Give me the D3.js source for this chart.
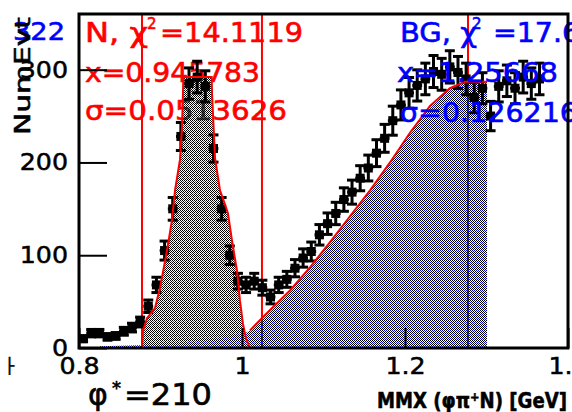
<!DOCTYPE html>
<html>
<head>
<meta charset="utf-8">
<script src="https://cdn.jsdelivr.net/npm/d3@7"></script>
<style>
html, body { margin: 0; padding: 0; background: #fff; overflow: hidden; }
svg { display: block; }
text { font-family: "DejaVu Sans", "Liberation Sans", sans-serif; }
</style>
</head>
<body>
<div id="chart"></div>
<script>
// measured events (bin centres, counts)
const binCenters = [0.805, 0.815, 0.825, 0.835, 0.845, 0.855, 0.865, 0.875, 0.885, 0.895,
    0.905, 0.915, 0.925, 0.935, 0.945, 0.955, 0.965, 0.975, 0.985, 0.995,
    1.005, 1.015, 1.025, 1.035, 1.045, 1.055, 1.065, 1.075, 1.085, 1.095,
    1.105, 1.115, 1.125, 1.135, 1.145, 1.155, 1.165, 1.175, 1.185, 1.195,
    1.205, 1.215, 1.225, 1.235, 1.245, 1.255, 1.265, 1.275, 1.285, 1.295,
    1.305, 1.315, 1.325, 1.335, 1.345, 1.355, 1.365];
const counts = [10, 16, 16, 12, 13, 18, 22, 28, 45, 68,
    105, 150, 228, 285, 292, 282, 215, 150, 100, 72,
    68, 72, 65, 55, 68, 74, 86, 97, 104, 122,
    134, 145, 160, 168, 183, 194, 210, 226, 245, 262,
    275, 283, 290, 298, 295, 303, 297, 290, 270, 280,
    250, 282, 288, 280, 292, 285, 290];

// N peak (fit) shape
const nX = [0.8773, 0.8785, 0.8834, 0.8933, 0.8994, 0.9080, 0.9141, 0.9178, 0.9239, 0.9264,
    0.9276, 0.9280, 0.9628, 0.9632, 0.9669, 0.9730, 0.9790, 0.9828, 0.9877, 0.9939,
    0.9975, 1.0012, 1.0050, 1.0098];
const nY = [0, 18, 32, 43, 65, 105, 138, 170, 203, 238,
    275, 292, 292, 275, 205, 170, 155, 145, 116, 83,
    51, 26, 10, 0];

// background (fit) shape
const bgX = [0.822, 0.826, 0.875, 0.924, 0.960, 0.985, 1.004, 1.0098, 1.0344, 1.0589,
    1.0834, 1.1080, 1.1325, 1.1571, 1.1816, 1.2061, 1.2307, 1.2552, 1.2736, 1.3006];
const bgY = [0, 2, 3, 5, 8, 13, 16, 19, 41, 62,
    87, 114, 142, 170, 200, 232, 261, 280, 287, 287];

const cutLines = [0.8773, 1.0245, 1.2773];
const xTicks = [0.8, 1, 1.2, 1.4];
const xTickLabels = ["0.8", "1", "1.2", "1.4"];
const yTicks = [0, 100, 200, 300];
const yTickLabels = ["0", "100", "200", "300"];

const width = 572, height = 412;
const svg = d3.select("#chart").append("svg").attr("width", width).attr("height", height);

const x = d3.scaleLinear().domain([0.8, 1.4]).range([79, 568]);
const y = d3.scaleLinear().domain([0, 360]).range([348, 14]);

const defs = svg.append("defs");
defs.append("clipPath").attr("id", "plotclip")
    .append("rect").attr("x", 80).attr("y", 15).attr("width", 487).attr("height", 332);

// checkerboard fill with coloured dots (transparent between)
function checker(id, color, dots) {
    const p = defs.append("pattern").attr("id", id)
        .attr("patternUnits", "userSpaceOnUse").attr("width", 8).attr("height", 8);
    for (let j = 0; j < 8; j++) {
        for (let i = 0; i < 8; i++) {
            if ((i + j) % 2 === 0) {
                p.append("rect").attr("x", i).attr("y", j).attr("width", 1).attr("height", 1)
                    .attr("fill", "#000").attr("shape-rendering", "crispEdges");
            }
        }
    }
    dots.forEach(d => {
        p.append("rect").attr("x", d[0]).attr("y", d[1]).attr("width", 1).attr("height", 1)
            .attr("fill", color).attr("shape-rendering", "crispEdges");
    });
}
checker("fillN", "#ff0000", [[1, 1], [5, 1], [3, 5], [7, 5]]);
checker("fillBG", "#0000ff", [[0, 2], [2, 2], [4, 6], [6, 6]]);

function txt(str, px, py, size, color, len, weight) {
    const t = svg.append("text").attr("x", px).attr("y", py)
        .attr("font-size", size).attr("fill", color)
        .attr("stroke", color).attr("stroke-width", 0.6).text(str);
    if (len) t.attr("textLength", len).attr("lengthAdjust", "spacingAndGlyphs");
    if (weight) t.attr("font-weight", weight);
    return t;
}

// N stats (under the histogram)
txt("N, χ", 85, 42, 27, "#ff0000", 63);
txt("2", 147, 29, 15, "#ff0000");
txt("=14.1119", 160, 42, 27, "#ff0000", 143);
txt("x=0.945783", 85, 82, 27, "#ff0000", 175);
txt("σ=0.0513626", 85, 120, 27, "#ff0000", 202);

const plot = svg.append("g").attr("clip-path", "url(#plotclip)");

// cut lines
plot.selectAll(".cut").data(cutLines).enter().append("line")
    .attr("x1", d => x(d)).attr("x2", d => x(d))
    .attr("y1", 14).attr("y2", 348)
    .attr("stroke", "#ff0000").attr("stroke-width", 2);

const nPts = nX.map((v, i) => [v, nY[i]]);
const bgPts = bgX.map((v, i) => [v, bgY[i]]);
const area = d3.area().x(d => x(d[0])).y0(y(0)).y1(d => y(d[1]));
const line = d3.line().x(d => x(d[0])).y(d => y(d[1]));

plot.append("path").attr("d", area(nPts)).attr("fill", "url(#fillN)");
plot.append("path").attr("d", area(bgPts)).attr("fill", "url(#fillBG)");

// data points with errors
const pts = plot.selectAll(".pt").data(binCenters).enter().append("g");
pts.append("line")
    .attr("x1", d => x(d)).attr("x2", d => x(d))
    .attr("y1", (d, i) => y(counts[i] - Math.sqrt(counts[i])))
    .attr("y2", (d, i) => y(counts[i] + Math.sqrt(counts[i])))
    .attr("stroke", "#000").attr("stroke-width", 3);
pts.append("line")
    .attr("x1", d => x(d - 0.006)).attr("x2", d => x(d + 0.006))
    .attr("y1", (d, i) => y(counts[i])).attr("y2", (d, i) => y(counts[i]))
    .attr("stroke", "#000").attr("stroke-width", 3);
[1, -1].forEach(s => {
    pts.append("line")
        .attr("x1", d => x(d) - 5).attr("x2", d => x(d) + 5)
        .attr("y1", (d, i) => y(counts[i] + s * Math.sqrt(counts[i])))
        .attr("y2", (d, i) => y(counts[i] + s * Math.sqrt(counts[i])))
        .attr("stroke", "#000").attr("stroke-width", 3);
});
pts.append("rect")
    .attr("x", d => x(d) - 4.5).attr("y", (d, i) => y(counts[i]) - 4.5)
    .attr("width", 9).attr("height", 9).attr("fill", "#000");

// fit curves
plot.append("path").attr("d", line(nPts)).attr("fill", "none")
    .attr("stroke", "#ff0000").attr("stroke-width", 2);
plot.append("path").attr("d", line(bgPts.slice(7))).attr("fill", "none")
    .attr("stroke", "#ff0000").attr("stroke-width", 2);

// BG stats
txt("BG, χ", 400, 42, 27, "#0000ff", 77);
txt("2", 472, 29, 15, "#0000ff");
txt("=17.6", 493, 42, 27, "#0000ff", 87);
txt("x=1.25668", 397, 82, 27, "#0000ff", 161);
txt("σ=0.126216", 400, 122, 27, "#0000ff", 178);

// axes
const xAxis = svg.append("g").attr("transform", "translate(0,348)")
    .call(d3.axisBottom(x).tickValues(xTicks).tickSize(-20).tickPadding(10)
        .tickFormat((d, i) => xTickLabels[i]));
const yAxis = svg.append("g").attr("transform", "translate(79,0)")
    .call(d3.axisLeft(y).tickValues(yTicks).tickSize(-28).tickPadding(11)
        .tickFormat((d, i) => yTickLabels[i]));
[xAxis, yAxis].forEach(a => {
    a.select(".domain").remove();
    a.selectAll("line").attr("stroke", "#000").attr("stroke-width", 2);
    a.selectAll("text").attr("font-size", 23).attr("fill", "#000")
        .attr("stroke", "#000").attr("stroke-width", 0.5)
        .attr("font-family", "DejaVu Sans")
        .each(function () {
            const l = this.getComputedTextLength();
            d3.select(this).attr("textLength", l * 1.1).attr("lengthAdjust", "spacingAndGlyphs");
        });
});

svg.append("rect").attr("x", 79).attr("y", 14).attr("width", 489).attr("height", 334)
    .attr("fill", "none").attr("stroke", "#000").attr("stroke-width", 3);

// titles
txt("322", 13, 40, 25, "#0000ff", 52);
svg.append("text").attr("transform", "translate(30,135) rotate(-90)")
    .attr("font-size", 22).attr("fill", "#000").attr("stroke", "#000").attr("stroke-width", 0.6)
    .attr("textLength", 118).attr("lengthAdjust", "spacingAndGlyphs")
    .text("NumEvt");
txt("├", 5, 371, 15, "#000").attr("font-family", "DejaVu Sans Mono");
txt("φ", 88, 405, 30, "#000");
txt("*", 112, 394, 18, "#000");
txt("=210", 124, 405, 30, "#000", 88);
txt("MMX (φπ⁺N) [GeV]", 377, 408, 22, "#000", 190, "bold");
</script>
</body>
</html>
